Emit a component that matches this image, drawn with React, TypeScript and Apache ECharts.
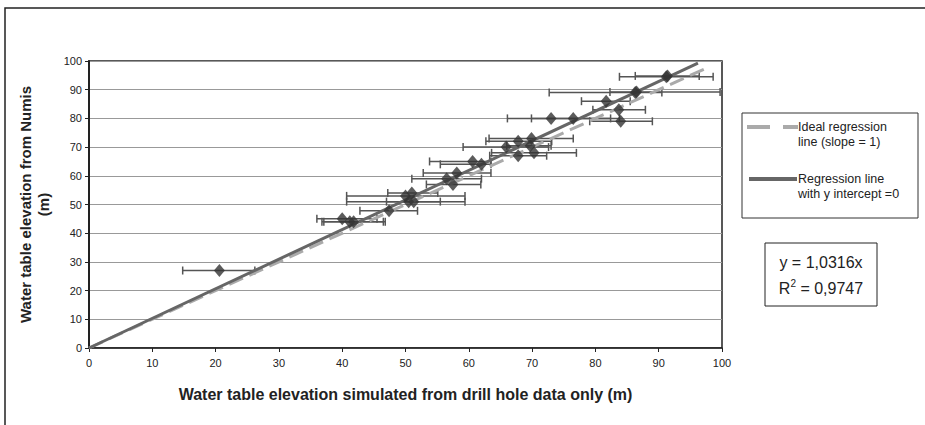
import React, { useEffect, useRef } from "react";
import * as echarts from "echarts";

// Observed points: [x simulated, y Numis, x error low, x error high]
const observations: number[][] = [
  [20.6, 27, 14.8, 26.2],
  [40, 45, 36.0, 45.5],
  [41.2, 44, 36.8, 46.8],
  [41.8, 44, 37.1, 46.5],
  [47.4, 47.8, 42.8, 51.9],
  [50, 53, 40.7, 59.4],
  [51, 54, 47.2, 55.1],
  [50.5, 51, 40.7, 59.4],
  [51.3, 51, 47.0, 55.5],
  [56.5, 59, 51.0, 62.0],
  [58.1, 61, 52.8, 63.5],
  [57.5, 57, 53.3, 61.9],
  [60.6, 65, 53.8, 63.5],
  [62, 64, 55.5, 63.5],
  [65.9, 70, 59.1, 72.6],
  [67.8, 72, 62.7, 73.1],
  [69.9, 73, 63.2, 76.5],
  [69.7, 70.5, 66.0, 73.0],
  [67.8, 67, 63.3, 72.3],
  [70.3, 68, 63.6, 77.0],
  [73, 80, 66.1, 83.8],
  [76.5, 80, 69.9, 82.4],
  [81.7, 86, 77.8, 85.5],
  [83.7, 83, 79.6, 87.9],
  [84, 79, 79.1, 89.0],
  [86.3, 89, 72.7, 90.5],
  [86.5, 89.2, 82.3, 99.7],
  [91.2, 94.5, 83.8, 98.6],
  [91.4, 94.8, 86.3, 96.4],
];

const idealLine: number[][] = [
  [0, 0],
  [98, 98],
];
const regressionLine: number[][] = [
  [0, 0],
  [96.2, 99.24],
];

const xTicks = { min: 0, max: 100, interval: 10 };
const yTicks = { min: 0, max: 100, interval: 10 };

const idealName = "Ideal regression\nline (slope = 1)";
const regressionName = "Regression line\nwith y intercept =0";
const equationLine1 = "y = 1,0316x";
const equationR2 = "0,9747";

const FONT = "Liberation Sans, Arial, sans-serif";

export default function App() {
  const ref = useRef<HTMLDivElement>(null);

  useEffect(() => {
    document.body.style.margin = "0";
    const chart = echarts.init(ref.current!, undefined, { renderer: "svg" });
    const legendText = (y: number, text: string) => ({
      type: "text",
      x: 798,
      y,
      style: {
        text,
        fontSize: 12.5,
        lineHeight: 14.5,
        fill: "#222",
        fontFamily: FONT,
        align: "left",
        verticalAlign: "top",
      },
      z: 11,
    });
    const option: any = {
      animation: false,
      backgroundColor: "#ffffff",
      textStyle: { fontFamily: FONT },
      grid: {
        left: 89,
        right: 203,
        top: 61,
        bottom: 77,
        show: true,
        borderColor: "#222",
        borderWidth: 1.5,
        backgroundColor: "transparent",
      },
      xAxis: {
        type: "value",
        min: xTicks.min,
        max: xTicks.max,
        interval: xTicks.interval,
        name: "Water table elevation simulated from drill hole data only (m)",
        nameLocation: "middle",
        nameGap: 38,
        nameTextStyle: { fontSize: 16, fontWeight: "bold", color: "#222", fontFamily: FONT },
        axisLine: { show: true, onZero: false, lineStyle: { color: "#222", width: 1.5 } },
        axisTick: { show: true, inside: false, length: 4, lineStyle: { color: "#222" } },
        axisLabel: { fontSize: 11, color: "#222", margin: 9, fontFamily: FONT },
        splitLine: { show: false },
      },
      yAxis: {
        type: "value",
        min: yTicks.min,
        max: yTicks.max,
        interval: yTicks.interval,
        name: "Water table elevation from Numis\n(m)",
        nameLocation: "middle",
        nameGap: 37,
        nameRotate: 90,
        nameTextStyle: {
          fontSize: 15,
          fontWeight: "bold",
          color: "#222",
          lineHeight: 18,
          align: "center",
          fontFamily: FONT,
        },
        axisLine: { show: true, onZero: false, lineStyle: { color: "#222", width: 2 } },
        axisTick: { show: true, inside: false, length: 4, lineStyle: { color: "#222" } },
        axisLabel: { fontSize: 11, color: "#222", margin: 7, fontFamily: FONT },
        splitLine: { show: true, lineStyle: { color: "#999", width: 1 } },
      },
      series: [
        {
          type: "custom",
          name: "errors",
          z: 1,
          silent: true,
          data: observations,
          encode: { x: [0, 2, 3], y: 1 },
          renderItem: (params: any, api: any) => {
            const y = api.value(1);
            const lo = api.coord([api.value(2), y]);
            const hi = api.coord([api.value(3), y]);
            const cap = 4;
            const style = { stroke: "#555", lineWidth: 1.5 };
            return {
              type: "group",
              children: [
                { type: "line", shape: { x1: lo[0], y1: lo[1], x2: hi[0], y2: hi[1] }, style },
                { type: "line", shape: { x1: lo[0], y1: lo[1] - cap, x2: lo[0], y2: lo[1] + cap }, style },
                { type: "line", shape: { x1: hi[0], y1: hi[1] - cap, x2: hi[0], y2: hi[1] + cap }, style },
              ],
            };
          },
        },
        {
          type: "line",
          name: idealName,
          z: 2,
          data: idealLine,
          showSymbol: false,
          symbol: "none",
          lineStyle: { color: "#aaaaaa", width: 3, type: [15, 7] },
          itemStyle: { color: "#aaaaaa" },
        },
        {
          type: "line",
          name: regressionName,
          z: 3,
          data: regressionLine,
          showSymbol: false,
          symbol: "none",
          lineStyle: { color: "#666666", width: 3 },
          itemStyle: { color: "#666666" },
        },
        {
          type: "scatter",
          name: "points",
          z: 4,
          data: observations.map((d) => [d[0], d[1]]),
          symbol: "diamond",
          symbolSize: [11, 13],
          itemStyle: { color: "#333333" },
        },
      ],
      graphic: [
        {
          type: "rect",
          shape: { x: 5, y: 8, width: 1200, height: 1000 },
          style: { fill: "none", stroke: "#222", lineWidth: 1.5 },
          silent: true,
          z: -10,
        },
        // legend box
        {
          type: "rect",
          shape: { x: 742, y: 113, width: 176, height: 105 },
          style: { fill: "#fff", stroke: "#333", lineWidth: 1 },
          z: 10,
        },
        {
          type: "line",
          shape: { x1: 747, y1: 127, x2: 770, y2: 127 },
          style: { stroke: "#aaaaaa", lineWidth: 4 },
          z: 11,
        },
        {
          type: "line",
          shape: { x1: 783, y1: 127, x2: 798, y2: 127 },
          style: { stroke: "#aaaaaa", lineWidth: 4 },
          z: 11,
        },
        {
          type: "line",
          shape: { x1: 749, y1: 179, x2: 797, y2: 179 },
          style: { stroke: "#666666", lineWidth: 4 },
          z: 11,
        },
        legendText(120, idealName),
        legendText(172, regressionName),
        // equation box
        {
          type: "rect",
          shape: { x: 765, y: 243, width: 112, height: 63 },
          style: { fill: "#fff", stroke: "#222", lineWidth: 1 },
          z: 10,
        },
        {
          type: "text",
          x: 821,
          y: 262,
          style: {
            text: equationLine1,
            fontSize: 16,
            fill: "#222",
            fontFamily: FONT,
            align: "center",
            verticalAlign: "middle",
          },
          z: 11,
        },
        {
          type: "text",
          x: 821,
          y: 287,
          style: {
            text: "{r|R}{s|2}{r| = " + equationR2 + "}",
            fill: "#222",
            fontFamily: FONT,
            align: "center",
            verticalAlign: "middle",
            rich: {
              r: { fontSize: 16, fill: "#222", fontFamily: FONT, verticalAlign: "bottom" },
              s: { fontSize: 10, fill: "#222", fontFamily: FONT, verticalAlign: "top", padding: [0, 0, 8, 0] },
            },
          },
          z: 11,
        },
      ],
    };
    chart.setOption(option);
    return () => chart.dispose();
  }, []);

  return (
    <div
      ref={ref}
      style={{ position: "absolute", left: 0, top: 0, width: 925, height: 425 }}
    />
  );
}
